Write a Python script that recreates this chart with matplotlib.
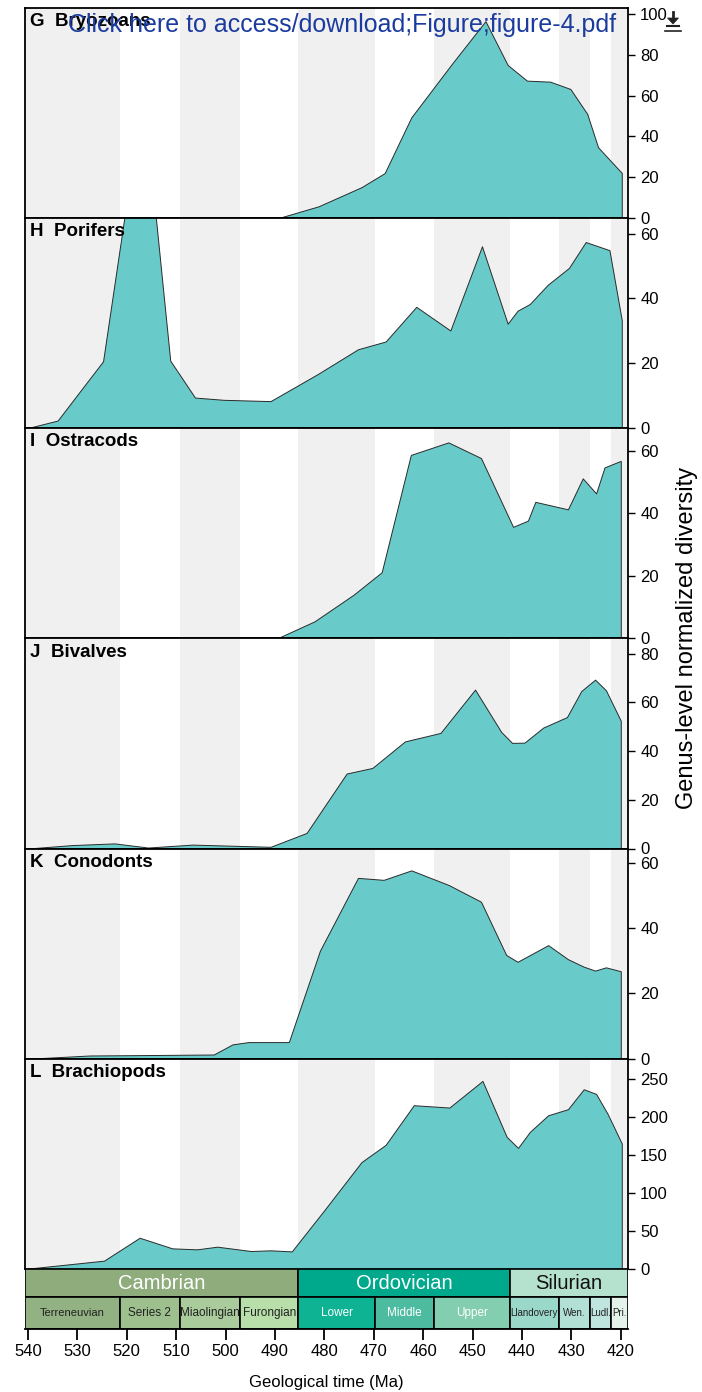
import matplotlib
matplotlib.use("Agg")
import matplotlib.pyplot as plt
from matplotlib.patches import Rectangle, Polygon
from matplotlib.lines import Line2D

plt.rcParams['font.family'] = ['Liberation Sans', 'DejaVu Sans']

# ---------------- data ----------------
bryozoans_age = [489.1, 481.2, 472.5, 467.8, 462.4, 454.2, 447.4, 442.9, 439.0, 434.3, 430.2, 426.8, 424.6, 419.8]
bryozoans_div = [0, 5.6, 15.0, 21.9, 49.3, 75.5, 96.5, 75.0, 67.3, 66.8, 63.2, 51.0, 34.6, 22.0]

porifers_age = [540, 534.0, 524.8, 516.7, 511.2, 506.2, 500.4, 490.9, 481.4, 473.2, 467.6, 461.4, 454.5, 448.1,
                442.9, 440.9, 438.4, 434.8, 430.5, 427.1, 422.3, 419.8]
porifers_div = [0, 2.3, 20.6, 104, 20.8, 9.4, 8.7, 8.3, 16.6, 24.3, 26.7, 37.4, 30.1, 56.1,
                32.2, 36.2, 38.3, 44.2, 49.4, 57.4, 54.9, 33.3]

ostracods_age = [489.5, 482.0, 474.1, 468.4, 462.5, 454.9, 448.3, 441.8, 438.8, 437.3, 430.7, 427.7, 425.0, 423.3, 420.0]
ostracods_div = [0, 5.4, 13.9, 21.1, 58.6, 62.6, 57.6, 35.6, 37.6, 43.6, 41.2, 51.1, 46.3, 54.6, 56.7]

bivalves_age = [540, 531.1, 522.5, 515.7, 506.7, 490.9, 483.6, 475.5, 470.3, 463.7, 456.5, 449.5, 444.2, 442.0,
                439.5, 435.7, 430.9, 428.0, 425.2, 423.0, 420.0]
bivalves_div = [0, 1.4, 2.1, 0.4, 1.6, 0.7, 6.4, 30.8, 33.1, 44.0, 47.5, 65.3, 47.9, 43.4,
                43.5, 49.7, 54.0, 64.7, 69.4, 65.0, 52.5]

conodonts_age = [540, 527.5, 518.5, 502.4, 498.6, 495.4, 487.2, 480.9, 473.2, 468.0, 462.4, 454.8, 448.3, 443.2,
                 440.9, 434.7, 430.7, 427.5, 425.2, 423.0, 420.0]
conodonts_div = [0, 1.0, 1.1, 1.3, 4.4, 5.1, 5.1, 33.1, 55.4, 54.8, 57.7, 53.2, 48.1, 31.8,
                 29.7, 34.8, 30.5, 28.2, 27.0, 28.0, 26.8]

brachiopods_age = [540, 524.6, 517.4, 510.8, 505.8, 501.7, 494.9, 490.9, 486.6, 480.0, 472.5, 467.6, 461.9, 454.7,
                   448.0, 443.1, 440.8, 438.4, 434.7, 430.7, 427.5, 425.0, 422.7, 419.8]
brachiopods_div = [0.5, 11, 41.2, 27.2, 25.9, 29.4, 23.7, 24.6, 23.2, 77.6, 140.8, 163.6, 215.8, 212.7,
                   247.8, 174.1, 159.6, 180.7, 202.6, 210.5, 236.8, 230.7, 204.8, 165.4]

panel_labels = ["G", "H", "I", "J", "K", "L"]
panel_names = ["Bryozoans", "Porifers", "Ostracods", "Bivalves", "Conodonts", "Brachiopods"]
panel_ymax = [103.2, 64.9, 67.2, 86.4, 64.4, 277]
panel_yticks = [[0, 20, 40, 60, 80, 100], [0, 20, 40, 60], [0, 20, 40, 60],
                [0, 20, 40, 60, 80], [0, 20, 40, 60], [0, 50, 100, 150, 200, 250]]

period_names = ["Cambrian", "Ordovician", "Silurian"]
period_bounds = [540.6, 485.3, 442.5, 418.6]
epoch_names = ["Terreneuvian", "Series 2", "Miaolingian", "Furongian", "Lower", "Middle", "Upper",
               "Llandovery", "Wen.", "Ludl.", "Pri."]
epoch_bounds = [540.6, 521.4, 509.3, 497.0, 485.3, 469.7, 457.9, 442.5, 432.5, 426.2, 421.9, 418.6]

x_ticks = [540, 530, 520, 510, 500, 490, 480, 470, 460, 450, 440, 430, 420]

# ---------------- styles ----------------
period_colors = ["#8FAC7D", "#00A98C", "#B5E1CF"]
period_text = ["white", "white", "#111111"]
epoch_colors = ["#92B283", "#9DC08E", "#AACB9C", "#B8DEAA", "#0DB393", "#4CBBA0", "#83CDB0",
                "#9AD8CA", "#B2E0D4", "#BFE5DE", "#E4F3EA"]
epoch_text = ["#222222"] * 4 + ["white"] * 3 + ["#222222"] * 4
epoch_fs = [8, 8.5, 8.5, 8.5, 8.5, 8.5, 8.5, 7, 7, 7, 7]

fill_color = "#69CBC9"
band_color = "#F0F0F0"

series = [(bryozoans_age, bryozoans_div), (porifers_age, porifers_div), (ostracods_age, ostracods_div),
          (bivalves_age, bivalves_div), (conodonts_age, conodonts_div), (brachiopods_age, brachiopods_div)]

W, H = 702, 1392
fig = plt.figure(figsize=(W / 100, H / 100), dpi=100)

left_px, right_px = 25.0, 627.7
top_px, panel_h = 7.5, 210.25
xlim = (epoch_bounds[0], epoch_bounds[-1])


def frac_rect(l, t, r, b):
    return [l / W, 1 - b / H, (r - l) / W, (b - t) / H]


for i in range(6):
    t = top_px + i * panel_h
    ax = fig.add_axes(frac_rect(left_px, t, right_px, t + panel_h))
    ax.set_xlim(*xlim)
    ax.set_ylim(0, panel_ymax[i])
    for k in range(len(epoch_names)):
        if k % 2 == 0:
            ax.axvspan(epoch_bounds[k], epoch_bounds[k + 1], color=band_color, lw=0, zorder=0)
    xa, ya = series[i]
    ax.fill_between(xa, ya, 0, facecolor=fill_color, edgecolor="#2a2a2a", linewidth=0.7, zorder=2)
    ax.set_xticks([])
    ax.yaxis.tick_right()
    ax.set_yticks(panel_yticks[i])
    ax.tick_params(axis="y", direction="out", length=5, width=1.0, pad=4, labelsize=12, colors="black")
    for s in ax.spines.values():
        s.set_linewidth(1.3)
        s.set_color("black")
        s.set_zorder(5)
    ax.text(0.009, 1 - 18.5 / panel_h, f"{panel_labels[i]}  {panel_names[i]}", transform=ax.transAxes,
            fontsize=13.5, fontweight="bold", va="baseline", ha="left", zorder=6)

# ---------------- timescale ----------------
ts_top, ts_mid, ts_bot = 1269.0, 1296.5, 1328.5
ax_t = fig.add_axes(frac_rect(left_px, ts_top, right_px, ts_bot))
ax_t.set_xlim(*xlim)
ax_t.set_ylim(ts_bot, ts_top)
for k in range(len(period_names)):
    a, b = period_bounds[k], period_bounds[k + 1]
    ax_t.add_patch(Rectangle((b, ts_top), a - b, ts_mid - ts_top, facecolor=period_colors[k],
                             edgecolor="black", linewidth=1.2))
    ax_t.text((a + b) / 2, (ts_top + ts_mid) / 2 + 0.5, period_names[k], ha="center", va="center",
              fontsize=14.5, color=period_text[k])
for k in range(len(epoch_names)):
    a, b = epoch_bounds[k], epoch_bounds[k + 1]
    ax_t.add_patch(Rectangle((b, ts_mid), a - b, ts_bot - ts_mid, facecolor=epoch_colors[k],
                             edgecolor="black", linewidth=1.2))
    ax_t.text((a + b) / 2, (ts_mid + ts_bot) / 2 + 0.5, epoch_names[k], ha="center", va="center",
              fontsize=epoch_fs[k], color=epoch_text[k])
for s in ["top", "left", "right"]:
    ax_t.spines[s].set_visible(False)
ax_t.spines["bottom"].set_linewidth(1.3)
ax_t.set_yticks([])
ax_t.set_xticks(x_ticks)
ax_t.set_xticklabels([str(v) for v in x_ticks])
ax_t.tick_params(axis="x", direction="out", length=8, width=1.3, pad=3, labelsize=12)

fig.text((left_px + right_px) / 2 / W, 1 - 1382 / H, "Geological time (Ma)", ha="center", va="center",
         fontsize=12)
fig.text(687 / W, 1 - 637.5 / H, "Genus-level normalized diversity", rotation=90, ha="center", va="center",
         fontsize=17)

# watermark
fig.text(68 / W, 1 - 32 / H, "Click here to access/download;Figure;figure-4.pdf", color="#1B3C9E",
         fontsize=18, ha="left", va="baseline", zorder=10)

# download icon (no installed font has this glyph) drawn as a small shape
def px(x, y):
    return (x / W, 1 - y / H)

icon_col = "#222222"
fig.add_artist(Line2D([673 / W, 673 / W], [1 - 12 / H, 1 - 19 / H], color=icon_col, lw=2.0,
                      transform=fig.transFigure))
fig.add_artist(Polygon([px(667.5, 18), px(678.5, 18), px(673, 24)], closed=True, facecolor=icon_col,
                       edgecolor=icon_col, lw=0.5, transform=fig.transFigure))
fig.add_artist(Line2D([667 / W, 679 / W], [1 - 25.5 / H, 1 - 25.5 / H], color=icon_col, lw=1.5,
                      transform=fig.transFigure))
fig.add_artist(Line2D([665 / W, 681 / W], [1 - 30.5 / H, 1 - 30.5 / H], color=icon_col, lw=1.2,
                      transform=fig.transFigure))

fig.savefig("out.png", dpi=100)
